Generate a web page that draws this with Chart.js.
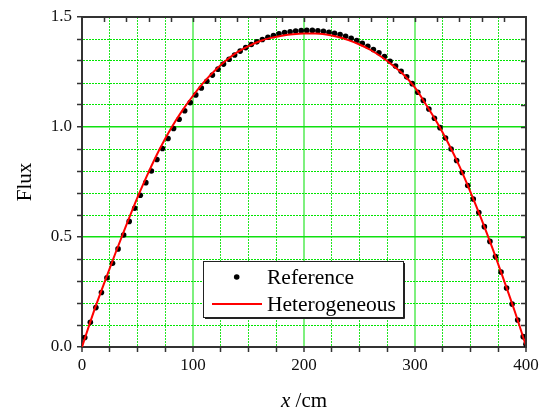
<!DOCTYPE html>
<html><head><meta charset="utf-8">
<script src="https://cdn.jsdelivr.net/npm/chart.js@4"></script>
<style>html,body{margin:0;padding:0;background:#fff}</style>
</head><body>
<canvas id="c" width="544" height="413"></canvas>
<script>
// ---- data ----
const refX = [2.5,7.5,12.5,17.5,22.5,27.5,32.5,37.5,42.5,47.5,52.5,57.5,62.5,67.5,72.5,77.5,82.5,87.5,92.5,97.5,
  102.5,107.5,112.5,117.5,122.5,127.5,132.5,137.5,142.5,147.5,152.5,157.5,162.5,167.5,172.5,177.5,182.5,187.5,192.5,197.5,
  202.5,207.5,212.5,217.5,222.5,227.5,232.5,237.5,242.5,247.5,252.5,257.5,262.5,267.5,272.5,277.5,282.5,287.5,292.5,297.5,
  302.5,307.5,312.5,317.5,322.5,327.5,332.5,337.5,342.5,347.5,352.5,357.5,362.5,367.5,372.5,377.5,382.5,387.5,392.5,397.5,400];
const refFlux = [0.043,0.112,0.179,0.248,0.315,0.381,0.446,0.509,0.571,0.631,0.690,0.747,0.800,0.852,0.902,0.948,0.993,1.035,1.074,1.111,
  1.146,1.177,1.208,1.236,1.263,1.286,1.308,1.327,1.345,1.361,1.375,1.387,1.398,1.408,1.416,1.424,1.429,1.433,1.436,1.438,
  1.439,1.439,1.437,1.435,1.431,1.426,1.420,1.412,1.403,1.393,1.380,1.367,1.352,1.337,1.320,1.299,1.277,1.253,1.228,1.197,
  1.158,1.121,1.082,1.040,0.997,0.950,0.900,0.848,0.793,0.734,0.673,0.611,0.547,0.480,0.411,0.341,0.268,0.195,0.123,0.047,0.013];
const hetX = [0,10,20,30,40,50,60,70,80,90,100,110,120,130,140,150,160,170,180,190,200,
  210,220,230,240,250,260,270,280,290,300,310,320,330,340,350,360,370,380,390,400];
const hetFlux = [0.0,0.152,0.290,0.425,0.555,0.680,0.795,0.900,0.992,1.072,1.142,1.205,1.258,1.303,1.340,1.368,1.390,1.405,1.415,1.422,1.425,
  1.425,1.420,1.410,1.395,1.375,1.350,1.318,1.280,1.236,1.179,1.101,1.019,0.926,0.822,0.704,0.579,0.446,0.305,0.160,0.005];
const seriesNames = ['Reference','Heterogeneous'];
const xLabelValues = [0,100,200,300,400];
const yLabelValues = [0.0,0.5,1.0,1.5];
const xAxisTitle = ['x',' /cm'];
const yAxisTitle = 'Flux';

const SERIF = '"Liberation Serif","Times New Roman",serif';
const isMul = (v, m) => Math.abs(v / m - Math.round(v / m)) < 1e-6;

const decor = {
  id: 'decor',
  afterDraw(chart) {
    const {ctx, chartArea: a, scales: {x, y}} = chart;
    ctx.save();
    // top & right borders
    ctx.strokeStyle = '#333'; ctx.lineWidth = 2;
    ctx.beginPath();
    ctx.moveTo(a.left, a.top); ctx.lineTo(a.right, a.top); ctx.lineTo(a.right, a.bottom);
    ctx.stroke();
    // inward ticks top (every 20) and right (every 0.1)
    ctx.lineWidth = 1.5;
    ctx.beginPath();
    for (let v = 20; v < 400; v += 20) {
      const px = Math.round(x.getPixelForValue(v)) + 0.5;
      ctx.moveTo(px, a.top); ctx.lineTo(px, a.top + 5);
    }
    for (let i = 1; i < 15; i++) {
      const py = Math.round(y.getPixelForValue(i / 10)) + 0.5;
      ctx.moveTo(a.right, py); ctx.lineTo(a.right - 5, py);
    }
    ctx.stroke();
    // axis titles
    ctx.fillStyle = '#000';
    ctx.font = 'italic 21px ' + SERIF;
    const w1 = ctx.measureText(xAxisTitle[0]).width;
    ctx.font = '21px ' + SERIF;
    const w2 = ctx.measureText(xAxisTitle[1]).width;
    const cx = (a.left + a.right) / 2;
    let sx = cx - (w1 + w2) / 2;
    ctx.textBaseline = 'alphabetic'; ctx.textAlign = 'left';
    ctx.font = 'italic 21px ' + SERIF;
    ctx.fillText(xAxisTitle[0], sx, 406.5);
    ctx.font = '21px ' + SERIF;
    ctx.fillText(xAxisTitle[1], sx + w1, 406.5);
    ctx.save();
    ctx.translate(25, (a.top + a.bottom) / 2);
    ctx.rotate(-Math.PI / 2);
    ctx.textAlign = 'center'; ctx.textBaseline = 'middle';
    ctx.fillText(yAxisTitle, 0, 0);
    ctx.restore();
    // legend
    const bx = 203, by = 261, bw = 200, bh = 56;
    ctx.fillStyle = '#fff';
    ctx.fillRect(bx, by, bw, bh);
    ctx.strokeStyle = '#222'; ctx.lineWidth = 1;
    ctx.strokeRect(bx + 0.5, by + 0.5, bw, bh);
    ctx.beginPath();
    ctx.moveTo(bx + 2, by + bh + 1.5); ctx.lineTo(bx + bw + 1.5, by + bh + 1.5); ctx.lineTo(bx + bw + 1.5, by + 2);
    ctx.stroke();
    ctx.fillStyle = '#000';
    ctx.beginPath(); ctx.arc(236.7, 277, 2.8, 0, Math.PI * 2); ctx.fill();
    ctx.strokeStyle = '#ff0000'; ctx.lineWidth = 2;
    ctx.beginPath(); ctx.moveTo(212, 304); ctx.lineTo(262, 304); ctx.stroke();
    ctx.fillStyle = '#000';
    ctx.font = '21.5px ' + SERIF; ctx.textAlign = 'left'; ctx.textBaseline = 'alphabetic';
    ctx.fillText(chart.data.datasets[0].label, 267, 283.5);
    ctx.fillText(chart.data.datasets[1].label, 267, 310.5);
    ctx.restore();
  }
};

new Chart(document.getElementById('c'), {
  type: 'scatter',
  data: {
    datasets: [
      {
        label: seriesNames[0], order: 1,
        data: refX.map((v, i) => ({x: v, y: refFlux[i]})),
        showLine: false, pointRadius: 2.8, pointHoverRadius: 2.8,
        pointBackgroundColor: '#000', pointBorderWidth: 0, borderColor: '#000'
      },
      {
        label: seriesNames[1], order: 0,
        data: hetX.map((v, i) => ({x: v, y: hetFlux[i]})),
        showLine: true, pointRadius: 0, borderColor: '#ff0000', borderWidth: 2,
        cubicInterpolationMode: 'monotone', fill: false
      }
    ]
  },
  options: {
    responsive: false, animation: false, devicePixelRatio: 1,
    layout: {padding: {top: 17, right: 18, left: 0, bottom: 0}},
    plugins: {legend: {display: false}, tooltip: {enabled: false}},
    scales: {
      x: {
        type: 'linear', position: 'bottom', min: 0, max: 400,
        afterFit(s) { s.height = 66; },
        ticks: {
          stepSize: 25, autoSkip: false, maxRotation: 0, padding: 3, color: '#111',
          font: {family: SERIF, size: 17},
          callback: v => xLabelValues.includes(v) ? String(v) : ''
        },
        grid: {
          color: c => (c.tick && (c.tick.value <= 0 || c.tick.value >= 400)) ? 'rgba(0,0,0,0)'
            : (c.tick && isMul(c.tick.value, 100) ? '#7ef07e' : '#22e622'),
          lineWidth: c => (c.tick && isMul(c.tick.value, 100)) ? 2 : 1,
          drawTicks: true, tickLength: 5, tickColor: '#333', tickWidth: 1.5
        },
        border: {display: true, color: '#333', width: 2,
          dash: c => (c.tick && !isMul(c.tick.value, 100)) ? [2, 1] : []}
      },
      y: {
        type: 'linear', position: 'left', min: 0, max: 1.5,
        afterFit(s) { s.width = 82; },
        ticks: {
          stepSize: 0.1, autoSkip: false, padding: 5, color: '#111',
          font: {family: SERIF, size: 17},
          callback: v => yLabelValues.some(t => Math.abs(t - v) < 1e-6) ? v.toFixed(1) : ''
        },
        grid: {
          color: c => (c.tick && (c.tick.value <= 1e-6 || c.tick.value >= 1.5 - 1e-6)) ? 'rgba(0,0,0,0)'
            : (c.tick && isMul(c.tick.value, 0.5) ? '#10e010' : '#00e600'),
          lineWidth: c => (c.tick && isMul(c.tick.value, 0.5)) ? 1.5 : 1,
          drawTicks: true, tickLength: 5, tickColor: '#333', tickWidth: 1.5
        },
        border: {display: true, color: '#333', width: 2,
          dash: c => (c.tick && !isMul(c.tick.value, 0.5)) ? [2, 1] : []}
      }
    }
  },
  plugins: [decor]
});
</script>
</body></html>
